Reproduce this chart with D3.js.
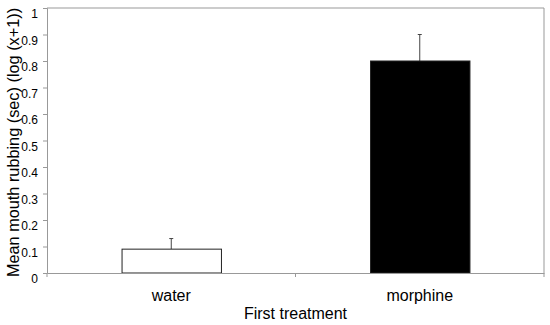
<!DOCTYPE html>
<html>
<head>
<meta charset="utf-8">
<script src="https://cdn.jsdelivr.net/npm/d3@7"></script>
<style>
  body { margin: 0; background: #fff; }
  text { font-family: "Liberation Sans", Arial, sans-serif; }
</style>
</head>
<body>
<div id="chart"></div>
<script>
// data
var categories = ['water', 'morphine']
var means = [0.09, 0.80]
var errors = [0.04, 0.10]
var barFills = ['#ffffff', '#000000']
var yTicks = [0, 0.1, 0.2, 0.3, 0.4, 0.5, 0.6, 0.7, 0.8, 0.9, 1]

var margin = { top: 8, right: 6, bottom: 52, left: 47 }
var width = 550 - margin.left - margin.right
var height = 325 - margin.top - margin.bottom

var svg = d3.select('#chart').append('svg')
  .attr('width', 550)
  .attr('height', 325)

var g = svg.append('g')
  .attr('transform', 'translate(' + margin.left + ',' + margin.top + ')')

var x = d3.scaleBand()
  .domain(categories)
  .range([0, width])
  .padding(0)

var y = d3.scaleLinear()
  .domain([0, 1])
  .range([height, 0])

var barW = x.bandwidth() * 0.4

// plot frame (top and right)
g.append('path')
  .attr('d', 'M0,0H' + width + 'V' + height)
  .attr('fill', 'none')
  .attr('stroke', '#999')

// error bars (upper only)
var eb = g.selectAll('.err')
  .data(categories)
  .enter().append('g')
  .attr('class', 'err')
eb.append('line')
  .attr('x1', function(d) { return x(d) + x.bandwidth() / 2 })
  .attr('x2', function(d) { return x(d) + x.bandwidth() / 2 })
  .attr('y1', function(d, i) { return y(means[i]) })
  .attr('y2', function(d, i) { return y(means[i] + errors[i]) })
  .attr('stroke', '#444')
eb.append('line')
  .attr('x1', function(d) { return x(d) + x.bandwidth() / 2 - 2 })
  .attr('x2', function(d) { return x(d) + x.bandwidth() / 2 + 2 })
  .attr('y1', function(d, i) { return y(means[i] + errors[i]) })
  .attr('y2', function(d, i) { return y(means[i] + errors[i]) })
  .attr('stroke', '#444')

g.selectAll('.bar')
  .data(categories)
  .enter().append('rect')
  .attr('class', 'bar')
  .attr('x', function(d) { return x(d) + (x.bandwidth() - barW) / 2 + 0.5 })
  .attr('width', barW)
  .attr('y', function(d, i) { return y(means[i]) })
  .attr('height', function(d, i) { return height - y(means[i]) })
  .attr('fill', function(d, i) { return barFills[i] })
  .attr('stroke', '#222')
  .attr('stroke-width', 1)

var yAxis = d3.axisLeft(y)
  .tickValues(yTicks)
  .tickFormat(function(d) { return d3.format('')(d) })
  .tickSize(4)
  .tickPadding(5)

var yg = g.append('g').call(yAxis)
yg.select('.domain').attr('stroke', '#999')
yg.selectAll('.tick line').attr('stroke', '#999')
yg.selectAll('text')
  .attr('font-size', 12)
  .attr('fill', '#000')
  .attr('dy', '0.8em')

// x axis with ticks at category boundaries
var xAxis = d3.axisBottom(x).tickSize(0).tickPadding(17)
var xg = g.append('g')
  .attr('transform', 'translate(0,' + height + ')')
  .call(xAxis)
xg.select('.domain').attr('stroke', '#999')
xg.selectAll('text').attr('font-size', 16).attr('fill', '#000')
xg.selectAll('.bound')
  .data([0, 1, 2])
  .enter().append('line')
  .attr('x1', function(d) { return d * x.step() })
  .attr('x2', function(d) { return d * x.step() })
  .attr('y1', 0)
  .attr('y2', 4)
  .attr('stroke', '#999')

svg.append('text')
  .attr('x', margin.left + width / 2)
  .attr('y', 319)
  .attr('text-anchor', 'middle')
  .attr('font-size', 16)
  .text('First treatment')

svg.append('text')
  .attr('transform', 'translate(19,' + (margin.top + height / 2 + 2) + ') rotate(-90)')
  .attr('text-anchor', 'middle')
  .attr('font-size', 16.3)
  .text('Mean mouth rubbing (sec) (log (x+1))')
</script>
</body>
</html>
